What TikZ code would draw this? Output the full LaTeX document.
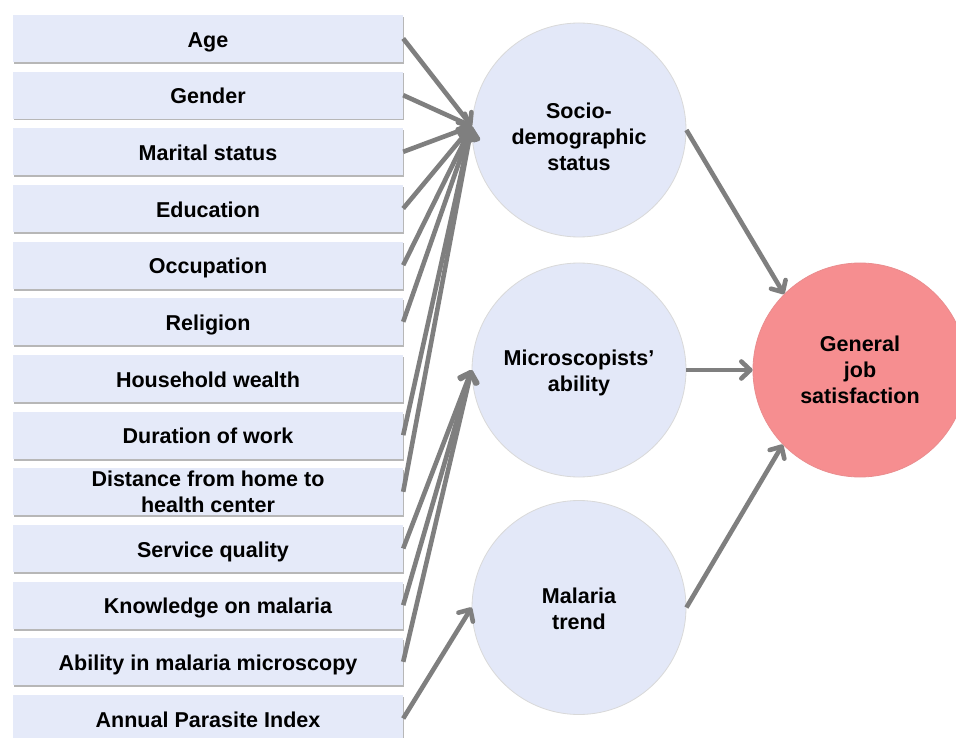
\documentclass[tikz,border=0pt]{standalone}
\usepackage{fontspec}
\setmainfont{Liberation Sans}
\usetikzlibrary{arrows.meta,shadows}
\definecolor{boxfill}{HTML}{E5EAF9}
\definecolor{circfill}{HTML}{E3E8F8}
\definecolor{goalfill}{HTML}{F68E90}
\definecolor{linkgray}{HTML}{7F7F7F}
% strut that keeps one-line labels on a common baseline
\newcommand{\rowstrut}{\rule[-5pt]{0pt}{27.5pt}}
\begin{document}
\begin{tikzpicture}[x=1pt,y=-1pt,
  txt/.style={font=\fontsize{21.5}{26}\selectfont\bfseries, align=center},
  factor/.style={txt, rectangle, fill=boxfill, minimum width=390pt,
    minimum height=47pt, inner sep=0pt,
    drop shadow={shadow xshift=0.6pt, shadow yshift=-1.8pt, fill=gray!70, opacity=0.8}},
  construct/.style={txt, circle, fill=circfill, draw=gray!30, line width=0.8pt,
    minimum size=214pt, inner sep=0pt},
  goal/.style={construct, fill=goalfill, draw=goalfill!90!gray},
  link/.style={draw=linkgray, line width=4.6pt,
    -{Straight Barb[length=9pt,width=17pt,round]}}]
\useasboundingbox (0,0) rectangle (956,738);
\fill[white] (0,0) rectangle (956,738);

% input factors
\node[factor] (b1)  at (208,38.5)  {\rowstrut Age};
\node[factor] (b2)  at (208,95.2)  {\rowstrut Gender};
\node[factor] (b3)  at (208,151.8) {\rowstrut Marital status};
\node[factor] (b4)  at (208,208.5) {\rowstrut Education};
\node[factor] (b5)  at (208,265.2) {\rowstrut Occupation};
\node[factor] (b6)  at (208,321.8) {\rowstrut Religion};
\node[factor] (b7)  at (208,378.5) {\rowstrut Household wealth};
\node[factor] (b8)  at (208,435.2) {\rowstrut Duration of work};
\node[factor] (b9)  at (208,491.8) {Distance from home to\\health center};
\node[factor] (b10) at (208,548.5) {\rowstrut\hspace*{10pt}Service quality};
\node[factor] (b11) at (208,605.2) {\rowstrut\hspace*{20pt}Knowledge on malaria};
\node[factor] (b12) at (208,661.8) {\rowstrut Ability in malaria microscopy};
\node[factor] (b13) at (208,718.5) {\rowstrut Annual Parasite Index};

% latent constructs
\node[construct] (soc) at (579,130)   {\rule{0pt}{28.5pt}Socio-\\demographic\\status};
\node[construct] (mic) at (579,370)   {\rule{0pt}{22pt}Microscopists’\\ability};
\node[construct] (mal) at (579,607.5) {\rule{0pt}{18pt}Malaria\\trend};
\node[goal]      (gen) at (860,370)   {General\\job\\satisfaction};

% paths into the constructs
\foreach \b in {b1,b2,b3,b4,b5,b6,b8,b9}
  \draw[link] (\b.east) -- (soc.178);
\foreach \b in {b10,b11,b12}
  \draw[link] (\b.east) -- (mic.180);
\draw[link] (b13.east) -- (mal.180);

% paths into job satisfaction
\draw[link] (soc.east) -- (gen.135);
\draw[link] (mic.east) -- (gen.west);
\draw[link] (mal.east) -- (gen.224);
\end{tikzpicture}
\end{document}
